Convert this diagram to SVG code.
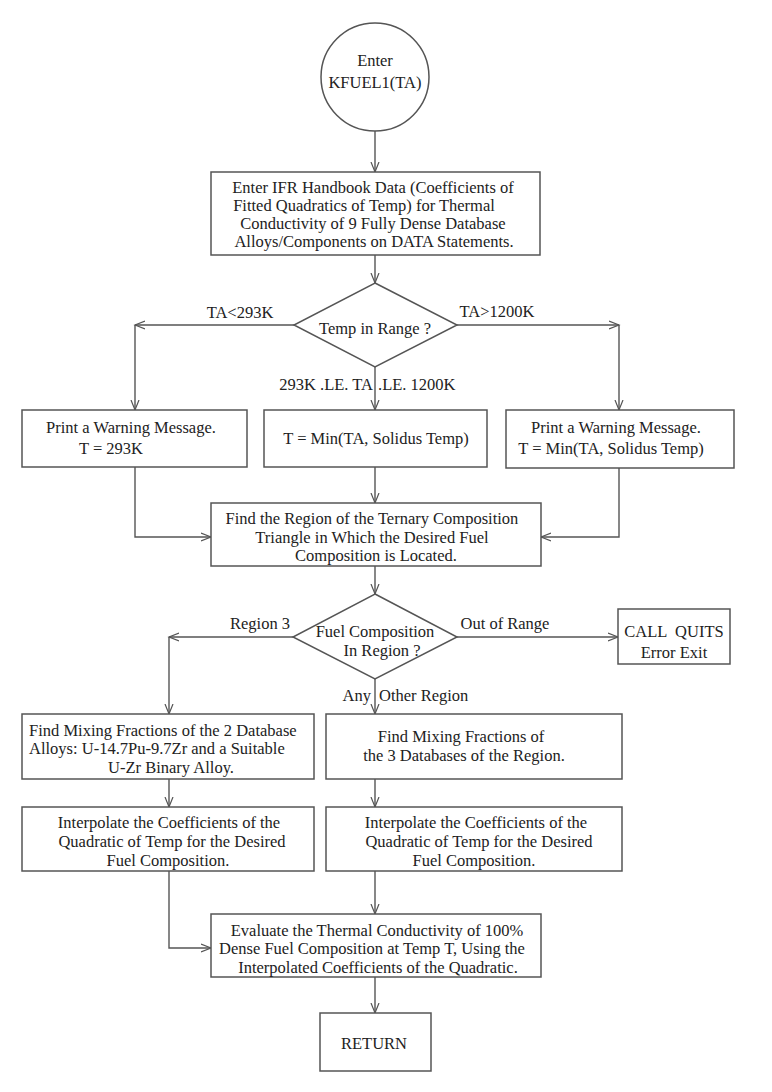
<svg xmlns="http://www.w3.org/2000/svg" width="772" height="1092" viewBox="0 0 772 1092">
<defs>
<marker id="arr" markerWidth="12" markerHeight="10" refX="10" refY="5" orient="auto" markerUnits="userSpaceOnUse">
<path d="M0,1 L10,5 L0,9" fill="none" stroke="#555" stroke-width="1.2"/>
</marker>
</defs>
<style>
.s{fill:#fff;stroke:#555;stroke-width:1.5}
.c{fill:none;stroke:#555;stroke-width:1.4}
text{font-family:"Liberation Serif","Times New Roman",serif;font-size:16.5px;fill:#222;text-anchor:middle}
.l{text-anchor:start}
.e{text-anchor:end}
</style>
<rect width="772" height="1092" fill="#fff"/>
<g id="connectors">
<path class="c" d="M375,131 V172" marker-end="url(#arr)"/>
<path class="c" d="M375,255 V283" marker-end="url(#arr)"/>
<path class="c" d="M294,325 H135" marker-end="url(#arr)"/>
<path class="c" d="M135,325 V410" marker-end="url(#arr)"/>
<path class="c" d="M457,325 H619" marker-end="url(#arr)"/>
<path class="c" d="M619,325 V410" marker-end="url(#arr)"/>
<path class="c" d="M375,367 V410" marker-end="url(#arr)"/>
<path class="c" d="M135,467 V537 H211" marker-end="url(#arr)"/>
<path class="c" d="M375,467 V503" marker-end="url(#arr)"/>
<path class="c" d="M619,468 V537 H541" marker-end="url(#arr)"/>
<path class="c" d="M375,566 V594" marker-end="url(#arr)"/>
<path class="c" d="M293,637 H169" marker-end="url(#arr)"/>
<path class="c" d="M169,637 V714" marker-end="url(#arr)"/>
<path class="c" d="M457,637 H618" marker-end="url(#arr)"/>
<path class="c" d="M375,679 V714" marker-end="url(#arr)"/>
<path class="c" d="M169,779 V807" marker-end="url(#arr)"/>
<path class="c" d="M375,779 V807" marker-end="url(#arr)"/>
<path class="c" d="M169,871 V948 H211" marker-end="url(#arr)"/>
<path class="c" d="M375,871 V914" marker-end="url(#arr)"/>
<path class="c" d="M375,977 V1013" marker-end="url(#arr)"/>
<text x="240" y="318">TA&lt;293K</text>
<text x="497" y="317">TA&gt;1200K</text>
<text x="373" y="390" class="e">293K .LE. TA</text>
<text x="378" y="390" class="l">.LE. 1200K</text>
<text x="260" y="629">Region 3</text>
<text x="505" y="629">Out of Range</text>
<text x="371" y="701" class="e">Any</text>
<text x="379" y="701" class="l">Other Region</text>
</g>
<g id="start">
<circle class="s" cx="375" cy="77" r="54"/>
<text x="375" y="66">Enter</text>
<text x="375" y="88">KFUEL1(TA)</text>
</g>
<g id="data">
<rect class="s" x="211" y="172" width="329" height="83"/>
<text x="373" y="193">Enter IFR Handbook Data (Coefficients of</text>
<text x="364" y="211">Fitted Quadratics of Temp) for Thermal</text>
<text x="373" y="229">Conductivity of 9 Fully Dense Database</text>
<text x="374" y="247">Alloys/Components on DATA Statements.</text>
</g>
<g id="temp-range">
<polygon class="s" points="375,283 457,325 375,367 294,325"/>
<text x="375" y="334">Temp in Range ?</text>
</g>
<g id="warn-low">
<rect class="s" x="22" y="410" width="225" height="57"/>
<text x="131" y="433">Print a Warning Message.</text>
<text x="79" y="454" class="l">T = 293K</text>
</g>
<g id="tmin">
<rect class="s" x="264" y="410" width="223" height="57"/>
<text x="376" y="444">T = Min(TA, Solidus Temp)</text>
</g>
<g id="warn-high">
<rect class="s" x="506" y="410" width="228" height="58"/>
<text x="616" y="433">Print a Warning Message.</text>
<text x="611" y="454">T = Min(TA, Solidus Temp)</text>
</g>
<g id="region">
<rect class="s" x="211" y="503" width="330" height="63"/>
<text x="372" y="524">Find the Region of the Ternary Composition</text>
<text x="372" y="543">Triangle in Which the Desired Fuel</text>
<text x="376" y="561">Composition is Located.</text>
</g>
<g id="fuel-region">
<polygon class="s" points="375,594 457,637 375,679 293,637"/>
<text x="375" y="637">Fuel Composition</text>
<text x="382" y="656">In Region ?</text>
</g>
<g id="quits">
<rect class="s" x="618" y="609" width="112" height="55"/>
<text x="674" y="637" xml:space="preserve">CALL  QUITS</text>
<text x="674" y="658">Error Exit</text>
</g>
<g id="mix2">
<rect class="s" x="22" y="714" width="292" height="65"/>
<text x="29" y="736" class="l">Find Mixing Fractions of the 2 Database</text>
<text x="29" y="754" class="l">Alloys: U-14.7Pu-9.7Zr and a Suitable</text>
<text x="171" y="773">U-Zr Binary Alloy.</text>
</g>
<g id="mix3">
<rect class="s" x="326" y="714" width="296" height="65"/>
<text x="461" y="742">Find Mixing Fractions of</text>
<text x="464" y="761">the 3 Databases of the Region.</text>
</g>
<g id="interp-left">
<rect class="s" x="22" y="807" width="292" height="64"/>
<text x="169" y="828">Interpolate the Coefficients of the</text>
<text x="172" y="847">Quadratic of Temp for the Desired</text>
<text x="168" y="866">Fuel Composition.</text>
</g>
<g id="interp-right">
<rect class="s" x="326" y="807" width="296" height="64"/>
<text x="476" y="828">Interpolate the Coefficients of the</text>
<text x="479" y="847">Quadratic of Temp for the Desired</text>
<text x="474" y="866">Fuel Composition.</text>
</g>
<g id="evaluate">
<rect class="s" x="211" y="914" width="330" height="63"/>
<text x="377" y="936">Evaluate the Thermal Conductivity of 100%</text>
<text x="372" y="954">Dense Fuel Composition at Temp T, Using the</text>
<text x="378" y="973">Interpolated Coefficients of the Quadratic.</text>
</g>
<g id="return">
<rect class="s" x="320" y="1013" width="111" height="58"/>
<text x="374" y="1049">RETURN</text>
</g>
</svg>
